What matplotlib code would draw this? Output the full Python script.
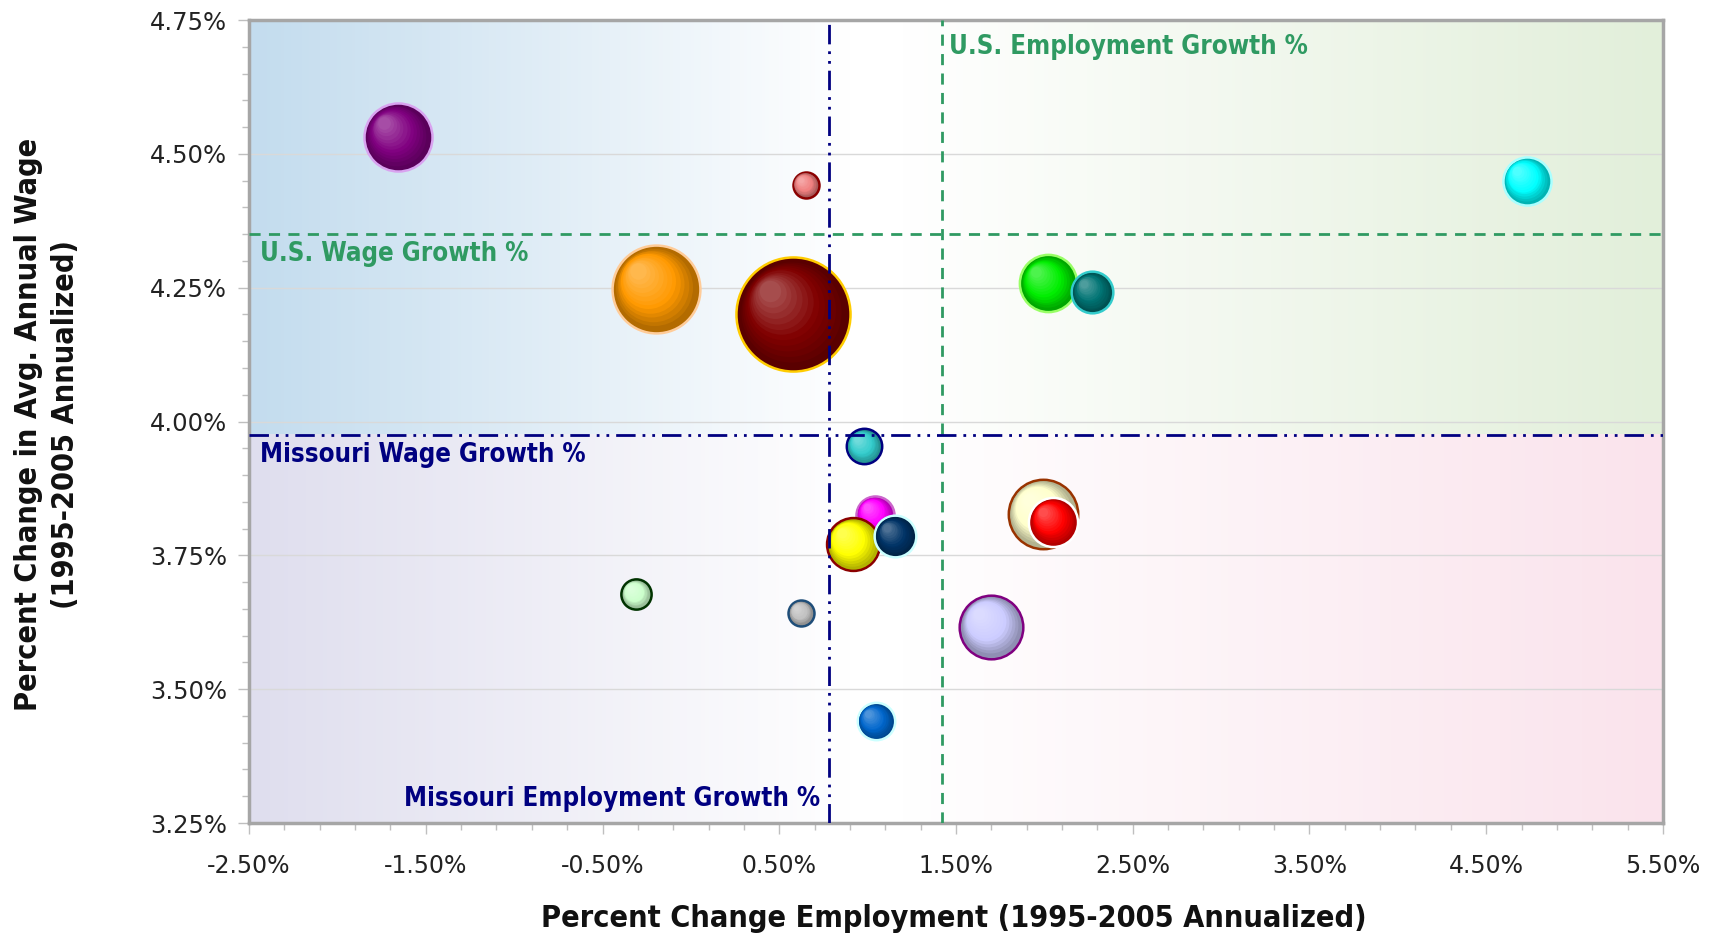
import numpy as np
import matplotlib
matplotlib.use("Agg")
import matplotlib.pyplot as plt
from matplotlib import font_manager
from matplotlib.transforms import offset_copy
from matplotlib.colors import to_rgb

# industries: employment growth %, wage growth %, relative bubble size
emp_growth = [-1.66, 0.65, -0.20, 0.575, 4.73, 2.02, 2.27, 0.98, 1.04, 0.915, 1.155,
              1.99, 2.05, -0.31, 0.625, 1.70, 1.045]
wage_growth = [4.532, 4.442, 4.248, 4.201, 4.450, 4.258, 4.242, 3.954, 3.826, 3.772, 3.786,
               3.828, 3.813, 3.677, 3.642, 3.617, 3.440]
bubble_size = [96, 14, 160, 270, 48, 68, 36, 26, 30, 58, 36, 100, 50, 19, 14, 84, 29]
face_colors = ['#800080', '#f08080', '#ff9900', '#800000', '#00ffff', '#00ee00', '#007373',
               '#33cccc', '#ff00ff', '#ffff00', '#003366', '#ffffcc', '#ff0000', '#ccffcc',
               '#c0c0c0', '#ccccff', '#0066cc']
edge_colors = ['#d9a3f0', '#8b0000', '#ffcc99', '#ffcc00', '#aaffff', '#99ff66', '#33cccc',
               '#000080', '#cc66cc', '#8b0000', '#ccffff', '#993300', '#ffffff', '#003300',
               '#1f4e79', '#800080', '#ccffff']

us_wage = 4.35
mo_wage = 3.975
mo_emp = 0.78
us_emp = 1.42

x_ticks = [-2.5, -1.5, -0.5, 0.5, 1.5, 2.5, 3.5, 4.5, 5.5]
y_ticks = [3.25, 3.50, 3.75, 4.00, 4.25, 4.50, 4.75]

GREEN = '#2f9a62'
NAVY = '#000080'

# look for a narrow bold font, the original uses a condensed face
narrow = None
for f in font_manager.fontManager.ttflist:
    fn = f.fname.lower()
    if ('narrow' in fn or 'condensed' in fn) and 'bold' in fn and 'oblique' not in fn \
            and 'italic' not in fn:
        narrow = f.fname
        break
if narrow:
    lab_font = dict(fontproperties=font_manager.FontProperties(fname=narrow))
    scale = 1.0
else:
    lab_font = dict(family='DejaVu Sans', fontweight='bold')
    scale = 0.85

fig = plt.figure(figsize=(17.14, 9.39), dpi=100)
ax = fig.add_axes([0.1453, 0.1235, 0.8249, 0.8552])
ax.set_xlim(-2.5, 5.5)
ax.set_ylim(3.25, 4.75)


# background gradients (left colour -> white -> right colour)
def band(c_left, c_right, n=400):
    xs = np.linspace(-2.5, 5.5, n)
    cl, cr = np.array(to_rgb(c_left)), np.array(to_rgb(c_right))
    w = np.ones(3)
    t1 = np.clip((xs + 2.5) / (0.9 + 2.5), 0, 1)
    t2 = np.clip((xs - 1.2) / (5.5 - 1.2), 0, 1)
    img = np.where((xs < 0.9)[:, None], cl + (w - cl) * t1[:, None], w + (cr - w) * t2[:, None])
    return img[None, :, :]


ax.imshow(band('#c3dcee', '#e2efda'), extent=[-2.5, 5.5, mo_wage, 4.75], aspect='auto', zorder=0)
ax.imshow(band('#dfdeee', '#fae3ec'), extent=[-2.5, 5.5, 3.25, mo_wage], aspect='auto', zorder=0)

ax.set_yticks(y_ticks)
ax.set_xticks(x_ticks)
ax.set_xticks(np.arange(-2.5, 5.51, 0.2), minor=True)
ax.set_yticks(np.arange(3.25, 4.751, 0.05), minor=True)
ax.grid(axis='y', which='major', color='#d9d9d9', linewidth=1, zorder=1)
ax.set_xticklabels([f'{v:.2f}%' for v in x_ticks])
ax.set_yticklabels([f'{v:.2f}%' for v in y_ticks])
ax.tick_params(which='both', color='#bfbfbf', direction='out')
ax.tick_params(which='major', length=8, width=1)
ax.tick_params(which='minor', length=5, width=1)
ax.tick_params(axis='x', which='major', pad=14, labelsize=17, labelcolor='#222222')
ax.tick_params(axis='y', which='major', pad=8, labelsize=17.5, labelcolor='#222222')
for s in ax.spines.values():
    s.set_color('#a6a6a6')
    s.set_linewidth(2.5)


def mix(c, other, t):
    c, o = np.array(to_rgb(c)), np.array(to_rgb(other))
    return tuple(c + (o - c) * t)


# bubbles with a simple 3-D shading
k = 2.5
for i in range(len(emp_growth)):
    x, y, s = emp_growth[i], wage_growth[i], bubble_size[i] * 10 * k
    fc = face_colors[i]
    z = 3 + i * 0.05
    ax.scatter([x], [y], s=s, color=mix(fc, 'black', 0.3), edgecolors=edge_colors[i],
               linewidths=1.8, zorder=z)
    d = np.sqrt(s)  # diameter in points
    n = 12
    for j in range(1, n + 1):
        t = j / n
        shrink = 1 - 0.8 * t
        off = 0.2 * d * t
        tr = offset_copy(ax.transData, fig=fig, x=-off, y=off, units='points')
        if t < 0.4:
            col = mix(fc, 'black', 0.3 * (1 - t / 0.4))
        else:
            col = mix(fc, 'white', 0.3 * (t - 0.4) / 0.6)
        ax.scatter([x], [y], s=(d * 0.94 * shrink) ** 2, color=col, linewidths=0,
                   transform=tr, zorder=z + 0.001 * j)

# reference lines
ax.axhline(us_wage, color=GREEN, linewidth=2, dashes=(4, 3), zorder=5)
ax.axvline(us_emp, color=GREEN, linewidth=2, dashes=(4, 3), zorder=5)
ax.axhline(mo_wage, color=NAVY, linewidth=2, dashes=(7, 2.5, 1, 2.5, 1, 2.5), zorder=5)
ax.axvline(mo_emp, color=NAVY, linewidth=2, dashes=(7, 2.5, 1, 2.5, 1, 2.5), zorder=5)

fs = 18.5 * scale
ax.text(us_emp + 0.04, 4.70, 'U.S. Employment Growth %', color=GREEN, fontsize=fs,
        va='center', ha='left', zorder=6, **lab_font)
ax.text(-2.44, 4.312, 'U.S. Wage Growth %', color=GREEN, fontsize=fs,
        va='center', ha='left', zorder=6, **lab_font)
ax.text(-2.44, 3.938, 'Missouri Wage Growth %', color=NAVY, fontsize=fs,
        va='center', ha='left', zorder=6, **lab_font)
ax.text(mo_emp - 0.05, 3.295, 'Missouri Employment Growth %', color=NAVY, fontsize=fs,
        va='center', ha='right', zorder=6, **lab_font)

ft = 22 * scale
fig.text(0.5566, 0.022, 'Percent Change Employment (1995-2005 Annualized)', fontsize=ft,
         ha='center', va='center', color='#111111', **lab_font)
fig.text(0.0275, 0.548, 'Percent Change in Avg. Annual Wage\n(1995-2005 Annualized)', fontsize=ft,
         ha='center', va='center', rotation=90, linespacing=1.35, color='#111111', **lab_font)

fig.savefig('out.png', dpi=100)
